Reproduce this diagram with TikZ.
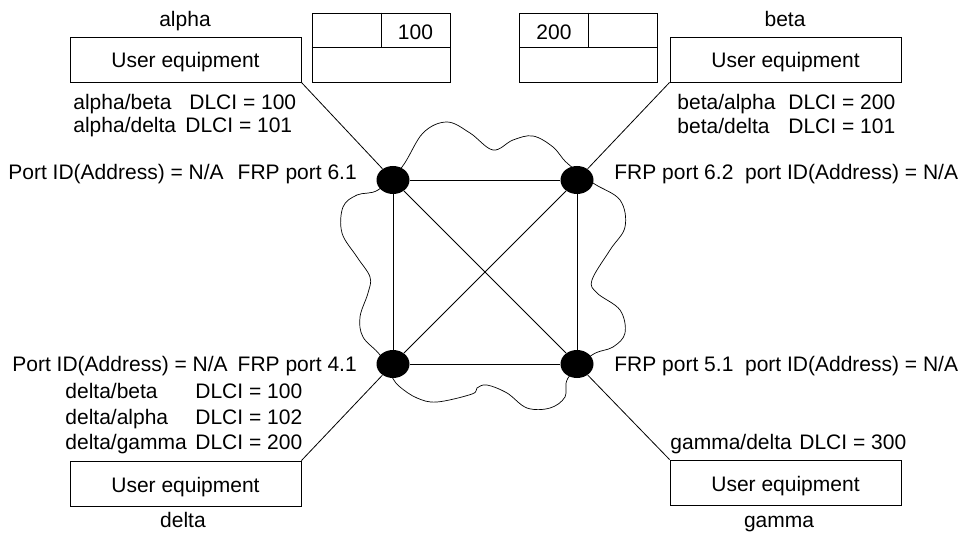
\documentclass[tikz,border=0pt]{standalone}
\usepackage{fontspec}
\setmainfont{Liberation Sans}
\usetikzlibrary{shapes.geometric}
\begin{document}
\begin{tikzpicture}[x=1pt,y=-1pt,
  font=\fontsize{21}{25}\selectfont,
  line width=0.8pt,
  uebox/.style={draw, line width=0.9pt, minimum width=231pt, minimum height=45pt, inner sep=0pt, text height=21pt, text depth=4pt},
  tabbox/.style={draw, line width=0.9pt, minimum width=138pt, minimum height=69pt, inner sep=0pt},
  port/.style={ellipse, fill=black, minimum width=33pt, minimum height=28pt, inner sep=0pt},
  txt/.style={inner sep=0pt, anchor=base west},
  ctxt/.style={inner sep=0pt, anchor=base}]
\useasboundingbox (0,0) rectangle (965,534);

% cloud
\draw[line width=0.7pt] plot[smooth cycle, tension=0.6] coordinates {
  (402,167) (423,133) (447,122) (470,133) (493,150) (513,140) (533,136) (553,147) (567,163)
  (593,183) (620,200) (625,227) (610,250) (592,280) (597,293) (620,310) (625,333) (613,347) (592,355)
  (568,378) (565,397) (550,408) (527,408) (507,393) (487,385) (477,388) (472,394) (437,402) (417,398) (400,387) (392,377)
  (380,355) (363,337) (360,317) (368,293) (370,277) (357,257) (342,233) (343,207) (357,195) (378,190)};

% user equipment boxes
\node[uebox] (alpha) at (185.5,59.5) {User equipment};
\node[uebox] (beta)  at (785.5,59.5) {User equipment};
\node[uebox] (delta) at (185.5,483.5) {User equipment};
\node[uebox] (gamma) at (785.5,482.5) {User equipment};

% tables
\node[tabbox] (tabA) at (381,47.5) {};
\draw[line width=0.9pt] (tabA.west) -- (tabA.east);
\draw[line width=0.9pt] (tabA.north) -- (tabA.center);
\node[ctxt] (tabAv) at (415.5,39.3) {100};
\node[tabbox] (tabB) at (588.5,47.5) {};
\draw[line width=0.9pt] (tabB.west) -- (tabB.east);
\draw[line width=0.9pt] (tabB.north) -- (tabB.center);
\node[ctxt] (tabBv) at (554,39.3) {200};

% ports
\node[port] (p61) at (393,180) {};
\node[port] (p62) at (577,180) {};
\node[port] (p41) at (393,364) {};
\node[port] (p51) at (577,364) {};

% mesh
\draw (p61) -- (p62);
\draw (p61) -- (p41);
\draw (p62) -- (p51);
\draw (p41) -- (p51);
\draw (p61) -- (p51);
\draw (p62) -- (p41);

% access lines
\draw (alpha.south east) -- (p61);
\draw (beta.south west) -- (p62);
\draw (delta.north east) -- (p41);
\draw (gamma.north west) -- (p51);

% labels
\node[ctxt] (lalpha) at (185,27) {alpha};
\node[ctxt] (lbeta) at (785,27) {beta};
\node[ctxt] (ldelta) at (183,527) {delta};
\node[ctxt] (lgamma) at (779,527) {gamma};

\node[txt] (a1) at (73,110) {\makebox[116pt][l]{alpha/beta}DLCI = 100};
\node[txt] (a2) at (73,133) {\makebox[112pt][l]{alpha/delta}DLCI = 101};
\node[txt] (a3) at (8,180) {Port ID(Address) = N/A\hspace{14pt}FRP port 6.1};

\node[txt] (b1) at (677,110) {\makebox[111pt][l]{beta/alpha}DLCI = 200};
\node[txt] (b2) at (677,134) {\makebox[111pt][l]{beta/delta}DLCI = 101};
\node[txt] (b3) at (614,180) {FRP port 6.2\ \ port ID(Address) = N/A};

\node[txt] (d0) at (12,371.5) {Port ID(Address) = N/A\hspace{10pt}FRP port 4.1};
\node[txt] (d1) at (65,398) {\makebox[130pt][l]{delta/beta}DLCI = 100};
\node[txt] (d2) at (65,424) {\makebox[130pt][l]{delta/alpha}DLCI = 102};
\node[txt] (d3) at (65,449) {\makebox[130pt][l]{delta/gamma}DLCI = 200};

\node[txt] (g0) at (614,371.5) {FRP port 5.1\ \ port ID(Address) = N/A};
\node[txt] (g1) at (670,449) {\makebox[129pt][l]{gamma/delta}DLCI = 300};
\end{tikzpicture}
\end{document}
